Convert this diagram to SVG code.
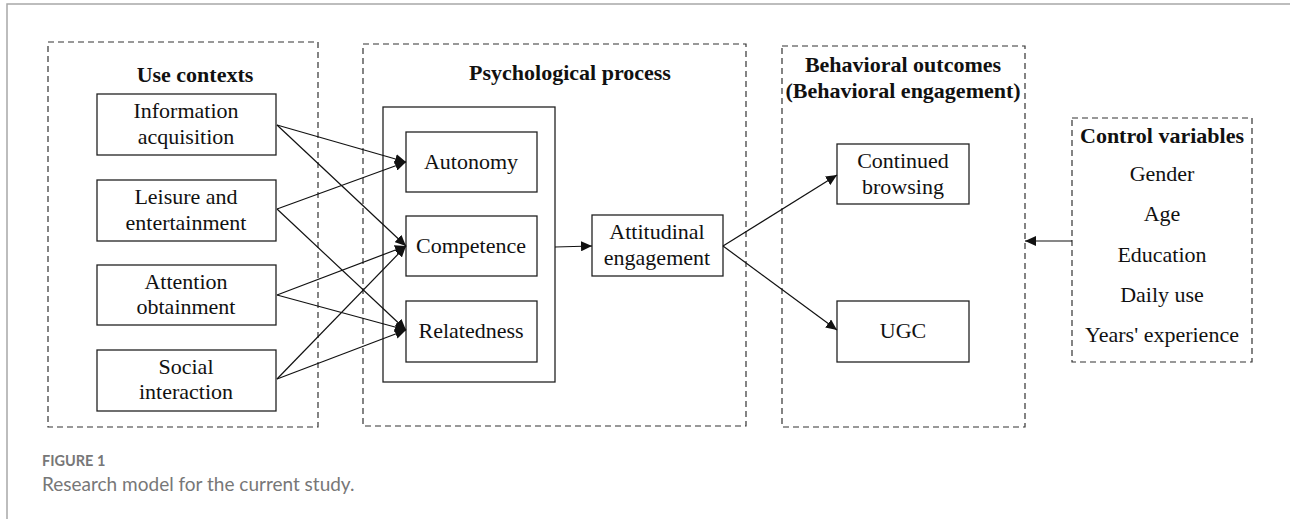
<svg xmlns="http://www.w3.org/2000/svg" width="1290" height="519" viewBox="0 0 1290 519">
<style>
.frame{stroke:#a8a8a8;stroke-width:1.5;fill:none}
.dash{fill:none;stroke:#333;stroke-width:1.2;stroke-dasharray:6,4}
.box{fill:#fff;stroke:#222;stroke-width:1.3}
.t{font-family:'Liberation Serif','DejaVu Serif',serif;font-size:22px;fill:#111;text-anchor:middle}
.b{font-weight:bold}
.con line{stroke:#111;stroke-width:1.2;fill:none}
.cap1{font-family:Lato,'Open Sans',sans-serif;font-weight:bold;font-size:14.5px;fill:#777}
.cap2{font-family:Lato,'Open Sans',sans-serif;font-size:19px;fill:#777}
</style>
<defs>
<marker id="ah" markerUnits="userSpaceOnUse" markerWidth="12" markerHeight="10" refX="11" refY="5" orient="auto">
<path d="M0,0 L11,5 L0,10 Z" fill="#111"/>
</marker>
</defs>
<rect width="1290" height="519" fill="#fff"/>
<path class="frame" d="M7,519 V4 H1290"/>

<g id="use-contexts">
<rect class="dash" x="48" y="42" width="270" height="385"/>
<text class="t b" x="195" y="82">Use contexts</text>
</g>
<g id="info-acquisition">
<rect class="box" x="97" y="94" width="179" height="61"/>
<text class="t" x="186" y="118">Information</text>
<text class="t" x="186" y="144">acquisition</text>
</g>
<g id="leisure">
<rect class="box" x="97" y="180" width="179" height="61"/>
<text class="t" x="186" y="204">Leisure and</text>
<text class="t" x="186" y="230">entertainment</text>
</g>
<g id="attention">
<rect class="box" x="97" y="265" width="179" height="60"/>
<text class="t" x="186" y="289">Attention</text>
<text class="t" x="186" y="314">obtainment</text>
</g>
<g id="social">
<rect class="box" x="97" y="350" width="179" height="61"/>
<text class="t" x="186" y="374">Social</text>
<text class="t" x="186" y="399">interaction</text>
</g>

<g id="psychological-process">
<rect class="dash" x="363" y="44" width="383" height="382"/>
<text class="t b" x="570" y="80">Psychological process</text>
</g>
<g id="needs-group">
<rect class="box" x="383" y="107" width="172" height="275"/>
</g>
<g id="autonomy">
<rect class="box" x="406" y="132" width="131" height="60"/>
<text class="t" x="471" y="169">Autonomy</text>
</g>
<g id="competence">
<rect class="box" x="406" y="216" width="131" height="60"/>
<text class="t" x="471" y="253">Competence</text>
</g>
<g id="relatedness">
<rect class="box" x="406" y="301" width="131" height="61"/>
<text class="t" x="471" y="338">Relatedness</text>
</g>
<g id="attitudinal">
<rect class="box" x="592" y="215" width="131" height="61"/>
<text class="t" x="657" y="239">Attitudinal</text>
<text class="t" x="657" y="265">engagement</text>
</g>

<g id="behavioral-outcomes">
<rect class="dash" x="782" y="46" width="243" height="381"/>
<text class="t b" x="903" y="72">Behavioral outcomes</text>
<text class="t b" x="903" y="98">(Behavioral engagement)</text>
</g>
<g id="continued-browsing">
<rect class="box" x="837" y="144" width="132" height="60"/>
<text class="t" x="903" y="168">Continued</text>
<text class="t" x="903" y="194">browsing</text>
</g>
<g id="ugc">
<rect class="box" x="837" y="301" width="132" height="61"/>
<text class="t" x="903" y="338">UGC</text>
</g>

<g id="control-variables">
<rect class="dash" x="1072" y="118" width="180" height="244"/>
<text class="t b" x="1162" y="143">Control variables</text>
<text class="t" x="1162" y="181">Gender</text>
<text class="t" x="1162" y="221">Age</text>
<text class="t" x="1162" y="262">Education</text>
<text class="t" x="1162" y="302">Daily use</text>
<text class="t" x="1162" y="342">Years' experience</text>
</g>

<g id="connectors" class="con">
<line x1="277" y1="125" x2="406" y2="162" marker-end="url(#ah)"/>
<line x1="277" y1="125" x2="406" y2="246" marker-end="url(#ah)"/>
<line x1="277" y1="209" x2="406" y2="162" marker-end="url(#ah)"/>
<line x1="277" y1="209" x2="406" y2="330" marker-end="url(#ah)"/>
<line x1="277" y1="295" x2="406" y2="246" marker-end="url(#ah)"/>
<line x1="277" y1="295" x2="406" y2="330" marker-end="url(#ah)"/>
<line x1="277" y1="379" x2="406" y2="246" marker-end="url(#ah)"/>
<line x1="277" y1="379" x2="406" y2="330" marker-end="url(#ah)"/>
<line x1="555" y1="247" x2="592" y2="246" marker-end="url(#ah)"/>
<line x1="723" y1="246" x2="837" y2="175" marker-end="url(#ah)"/>
<line x1="723" y1="246" x2="837" y2="330" marker-end="url(#ah)"/>
<line x1="1072" y1="241" x2="1025" y2="241" marker-end="url(#ah)"/>
</g>

<text class="cap1" x="42" y="466">FIGURE 1</text>
<text class="cap2" x="42" y="491">Research model for the current study.</text>
</svg>
